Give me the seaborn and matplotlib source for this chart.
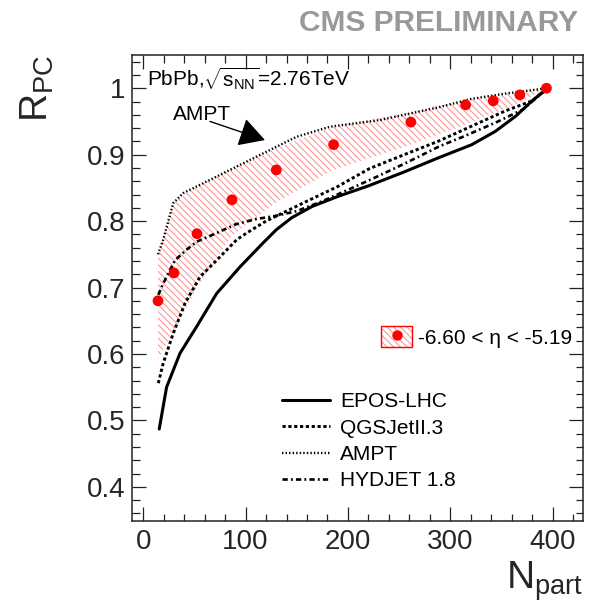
import matplotlib
matplotlib.use("Agg")
import matplotlib.pyplot as plt
import seaborn as sns
import pandas as pd
from matplotlib.lines import Line2D
from matplotlib.patches import Patch
from matplotlib.legend_handler import HandlerTuple
from matplotlib.ticker import MultipleLocator, FuncFormatter

# Measured R_PC versus N_part, -6.60 < eta < -5.19
npart = [14.4, 30, 52.5, 86.7, 130, 186, 261.5, 315, 342, 368, 394]
rpc = [0.680, 0.722, 0.781, 0.832, 0.877, 0.915, 0.949, 0.975, 0.981, 0.990, 1.000]
rpc_lo = [0.592, 0.635, 0.700, 0.778, 0.828, 0.877, 0.915, 0.945, 0.962, 0.978, 1.000]
rpc_hi = [0.750, 0.828, 0.853, 0.878, 0.910, 0.942, 0.964, 0.982, 0.988, 0.994, 1.000]

# Model predictions
epos_x = [15.6, 22.8, 35.9, 52.1, 71.7, 94.5, 117, 130, 145, 165, 190, 220, 255, 288, 321, 344, 364, 380, 395]
epos_y = [0.487, 0.550, 0.601, 0.641, 0.691, 0.731, 0.767, 0.787, 0.805, 0.822, 0.837, 0.853, 0.874, 0.895, 0.915, 0.935, 0.958, 0.981, 1.000]

qgs_x = [14.7, 19.5, 29.3, 40.7, 55.4, 71.7, 91.3, 101, 120, 140, 160, 190, 221, 255, 288, 321, 354, 380, 395]
qgs_y = [0.556, 0.586, 0.631, 0.676, 0.716, 0.741, 0.772, 0.782, 0.800, 0.815, 0.830, 0.852, 0.879, 0.900, 0.920, 0.943, 0.966, 0.981, 1.000]

ampt_x = [14.4, 19.5, 29.3, 39, 52, 84.7, 117.2, 150, 182.4, 231, 287.7, 321, 354, 395]
ampt_y = [0.750, 0.772, 0.827, 0.842, 0.852, 0.877, 0.902, 0.927, 0.942, 0.952, 0.971, 0.984, 0.992, 1.000]

hyd_x = [14.7, 19.5, 31, 42.4, 52.2, 71.7, 90, 110, 130, 150, 175, 200, 230, 260, 290, 311, 344, 371, 395]
hyd_y = [0.689, 0.706, 0.741, 0.757, 0.769, 0.782, 0.795, 0.803, 0.808, 0.815, 0.830, 0.847, 0.868, 0.890, 0.913, 0.926, 0.948, 0.968, 1.000]

model_names = ["EPOS-LHC", "QGSJetII.3", "AMPT", "HYDJET 1.8"]
data_label = "-6.60 < \u03b7 < -5.19"

sns.set_theme(style="ticks")
plt.rcParams["font.family"] = ["Liberation Sans", "DejaVu Sans"]
plt.rcParams["mathtext.fontset"] = "custom"
plt.rcParams["mathtext.rm"] = "Liberation Sans"
plt.rcParams["mathtext.it"] = "Liberation Sans:italic"
plt.rcParams["mathtext.bf"] = "Liberation Sans:bold"
plt.rcParams["hatch.linewidth"] = 0.7
plt.rcParams["text.color"] = "black"

fig = plt.figure(figsize=(5.96, 6.02), dpi=100)
ax = fig.add_axes([132 / 596, 1 - 520.7 / 602, 451.3 / 596, 465.7 / 602])

hatch_col = "#ff8a8a"
hatch_pat = "\\\\\\\\\\"
ax.fill_between(npart, rpc_lo, rpc_hi, facecolor="none", edgecolor=hatch_col,
                hatch=hatch_pat, linewidth=0, zorder=1)

styles = {
    "EPOS-LHC": dict(linestyle="-", linewidth=2.2),
    "QGSJetII.3": dict(linestyle=(0, (1.1, 0.9)), linewidth=2.1),
    "AMPT": dict(linestyle=(0, (0.6, 0.9)), linewidth=1.7),
    "HYDJET 1.8": dict(linestyle=(0, (2.0, 1.2, 0.7, 1.2)), linewidth=1.9),
}
curves = {
    "EPOS-LHC": (epos_x, epos_y),
    "QGSJetII.3": (qgs_x, qgs_y),
    "AMPT": (ampt_x, ampt_y),
    "HYDJET 1.8": (hyd_x, hyd_y),
}
for name in model_names:
    cx, cy = curves[name]
    df = pd.DataFrame({"npart": cx, "rpc": cy})
    sns.lineplot(data=df, x="npart", y="rpc", ax=ax, color="black",
                 errorbar=None, zorder=2, **styles[name])

sns.scatterplot(x=npart, y=rpc, ax=ax, color="#ff0000", s=60,
                edgecolor="none", zorder=3, legend=False)

ax.set_xlim(-11, 430)
ax.set_ylim(0.349, 1.05)
ax.xaxis.set_major_locator(MultipleLocator(100))
ax.xaxis.set_minor_locator(MultipleLocator(20))
ax.yaxis.set_major_locator(MultipleLocator(0.1))
ax.yaxis.set_minor_locator(MultipleLocator(0.02))
ax.yaxis.set_major_formatter(FuncFormatter(lambda v, p: "%g" % round(v, 2)))
ax.tick_params(which="both", direction="in", top=True, right=True,
               width=0.9, color="#222222", labelsize=20)
ax.tick_params(which="major", length=10)
ax.tick_params(which="minor", length=5.4)
ax.tick_params(axis="x", pad=6)
ax.tick_params(axis="y", pad=5)
for sp in ax.spines.values():
    sp.set_linewidth(1.1)
    sp.set_color("#222222")

ax.set_xlabel(r"N$_{\mathregular{part}}$", loc="right", fontsize=28, labelpad=3)
ax.set_ylabel(r"R$_{\mathregular{PC}}$", loc="top", fontsize=28, labelpad=22)

ax.text(0.033, 0.932, r"PbPb,$\sqrt{\mathregular{s}_{\mathregular{NN}}}$=2.76TeV",
        transform=ax.transAxes, fontsize=15, va="baseline", ha="left")

ax.text(29, 0.952, "AMPT", fontsize=15, va="baseline", ha="left")
ax.annotate("", xy=(118.9, 0.922), xytext=(65.2, 0.950),
            arrowprops=dict(arrowstyle="-|>,head_length=0.8,head_width=0.45",
                            mutation_scale=20, color="black", lw=1,
                            shrinkA=0, shrinkB=0))

fig.text(578 / 596, 1 - 9 / 602, "CMS PRELIMINARY", ha="right", va="top",
         fontsize=21.5, fontweight="bold", color="#999999")

line_handles = [Line2D([], [], color="black", **styles[n]) for n in model_names]
leg1 = ax.legend(line_handles, model_names, loc="center left",
                 bbox_to_anchor=(0.3324, 0.1707), frameon=False, fontsize=15,
                 handlelength=2.3, handletextpad=0.5, labelspacing=0.35,
                 borderpad=0, borderaxespad=0)
ax.add_artist(leg1)

data_handle = (
    Patch(facecolor="white", edgecolor=hatch_col, hatch=hatch_pat, linewidth=0),
    Patch(facecolor="none", edgecolor="#ff0000", linewidth=1.0),
    Line2D([], [], marker="o", color="#ff0000", linestyle="none", markersize=6.5),
)
ax.legend([data_handle], [data_label],
          handler_map={tuple: HandlerTuple(ndivide=1, pad=0)},
          loc="center left", bbox_to_anchor=(0.552, 0.3945), frameon=False,
          fontsize=15, handlelength=1.49, handleheight=1.2, handletextpad=0.3,
          borderpad=0, borderaxespad=0)

fig.savefig("out.png", dpi=100)
